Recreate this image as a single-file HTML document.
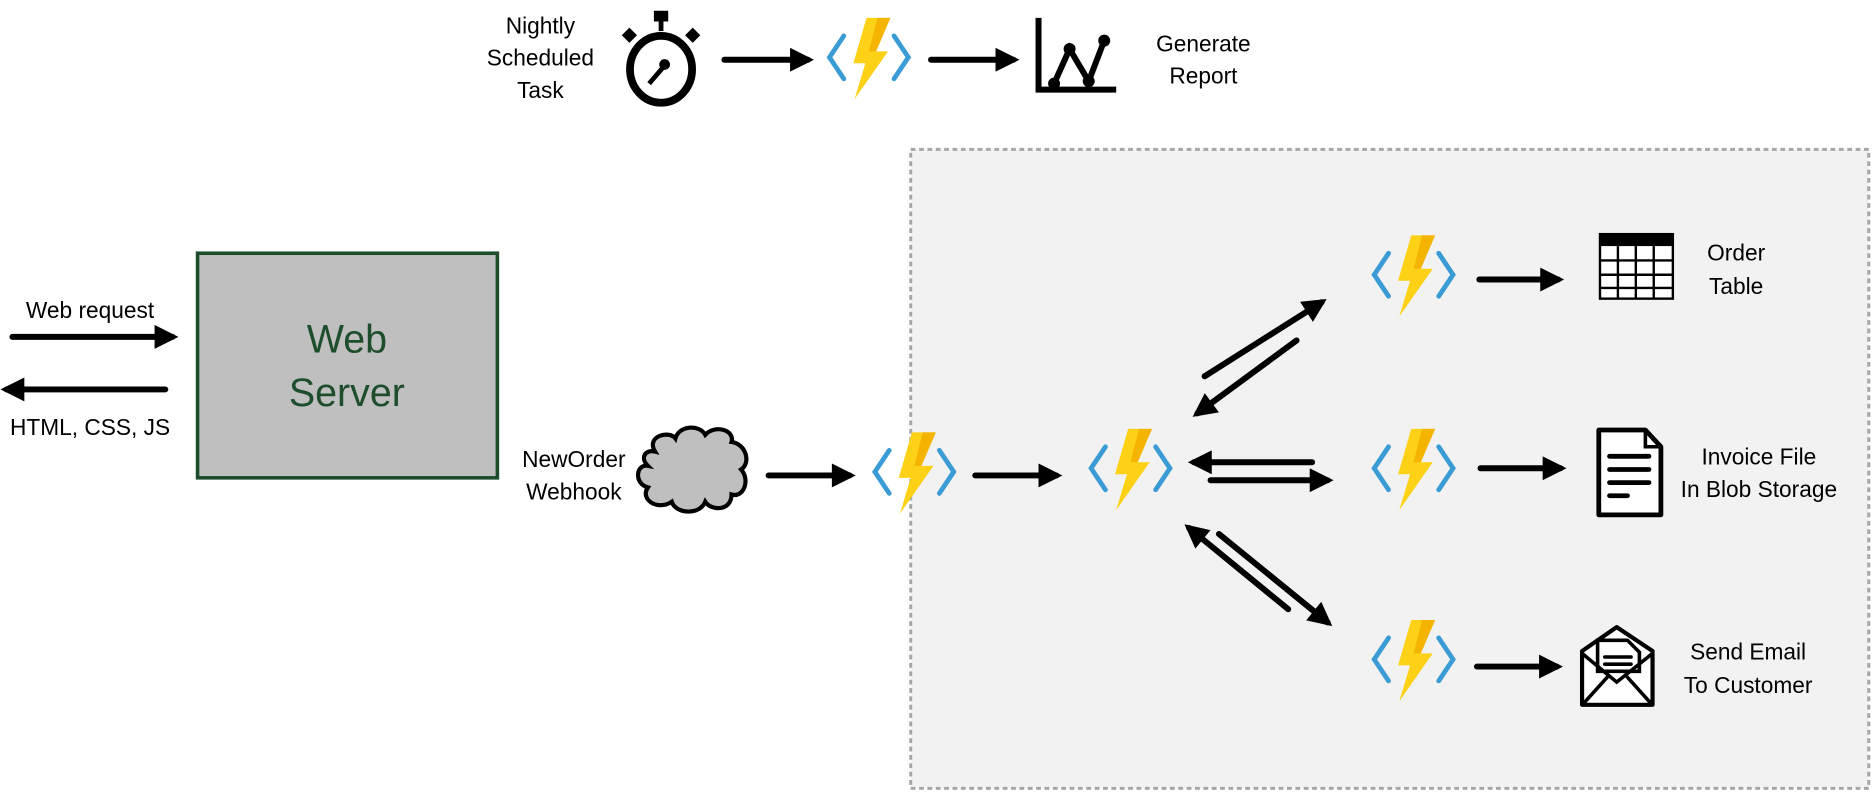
<!DOCTYPE html>
<html><head><meta charset="utf-8"><style>html,body{margin:0;padding:0;background:#fff}svg{display:block}text{font-family:"Liberation Sans",sans-serif;fill:#000}</style></head>
<body>
<svg width="1874" height="792" viewBox="0 0 1568 663" xmlns="http://www.w3.org/2000/svg">
<defs>
<marker id="ah" viewBox="0 0 10 10" refX="7.5" refY="5" markerWidth="5" markerHeight="4" markerUnits="strokeWidth" orient="auto"><path d="M0,0 L10,5 L0,10 z" fill="#000"/></marker>
<g id="fn">
<polyline points="-21,-18 -33,0 -21,18" fill="none" stroke="#3a9bd5" stroke-width="4" stroke-linecap="round"/>
<polyline points="21,-18 33,0 21,18" fill="none" stroke="#3a9bd5" stroke-width="4" stroke-linecap="round"/>
<polygon points="-2,-33 18,-33 6,-5 16,-5 -12,35 -3,5 -13,5" fill="#fcd116"/>
<polygon points="7,-33 18,-33 6,-5 0,-5" fill="#f4b400"/>
</g>
</defs>
<rect x="762" y="125" width="802" height="535" fill="#f2f2f2" stroke="#a6a6a6" stroke-width="2.5" stroke-dasharray="4,3"/>
<g stroke="#000" stroke-width="5" stroke-linecap="round" fill="none" marker-end="url(#ah)">
<line x1="606" y1="50" x2="676" y2="50"/>
<line x1="779" y1="50" x2="848" y2="50"/>
<line x1="10" y1="282" x2="144" y2="282"/>
<line x1="138" y1="326" x2="5" y2="326"/>
<line x1="643" y1="398" x2="711" y2="398"/>
<line x1="816" y1="398" x2="884" y2="398"/>
<line x1="1098" y1="387" x2="999" y2="387"/>
<line x1="1013" y1="402" x2="1111" y2="402"/>
<line x1="1008" y1="315" x2="1106" y2="253"/>
<line x1="1085" y1="285" x2="1002" y2="346"/>
<line x1="1020" y1="447" x2="1111" y2="521"/>
<line x1="1078" y1="510" x2="995" y2="442"/>
<line x1="1238" y1="234" x2="1304" y2="234"/>
<line x1="1239" y1="392" x2="1306" y2="392"/>
<line x1="1236" y1="558" x2="1303" y2="558"/>
</g>
<use href="#fn" x="727" y="48"/>
<use href="#fn" x="765" y="395"/>
<use href="#fn" x="946" y="392"/>
<use href="#fn" x="1183" y="230"/>
<use href="#fn" x="1183" y="392"/>
<use href="#fn" x="1183" y="552"/>
<!-- stopwatch -->
<rect x="547" y="9" width="12" height="9" fill="#000"/>
<rect x="551" y="16" width="4" height="10" fill="#000"/>
<rect x="522" y="25" width="9" height="9" transform="rotate(45 526.5 29.5)" fill="#000"/>
<rect x="575" y="25" width="9" height="9" transform="rotate(45 579.5 29.5)" fill="#000"/>
<ellipse cx="553" cy="58" rx="26" ry="28" fill="#fff" stroke="#000" stroke-width="6.5"/>
<line x1="555" y1="56" x2="543" y2="70" stroke="#000" stroke-width="4"/>
<circle cx="556" cy="54" r="4.5" fill="#000"/>
<!-- chart -->
<polyline points="869,15 869,75 934,75" fill="none" stroke="#000" stroke-width="5"/>
<polyline points="882,70 895,41 911,68 924,34" fill="none" stroke="#000" stroke-width="5"/>
<circle cx="882" cy="70" r="5" fill="#000"/><circle cx="895" cy="41" r="5" fill="#000"/><circle cx="911" cy="68" r="5" fill="#000"/><circle cx="924" cy="34" r="5" fill="#000"/>
<g font-size="19" text-anchor="middle">
<text x="452" y="28">Nightly</text><text x="452" y="55">Scheduled</text><text x="452" y="82">Task</text>
<text x="1007" y="43">Generate</text><text x="1007" y="70">Report</text>
<text x="75" y="266">Web request</text><text x="75" y="364">HTML, CSS, JS</text>
<text x="480" y="391">NewOrder</text><text x="480" y="418">Webhook</text>
<text x="1453" y="218">Order</text><text x="1453" y="246">Table</text>
<text x="1472" y="389">Invoice File</text><text x="1472" y="416">In Blob Storage</text>
<text x="1463" y="552">Send Email</text><text x="1463" y="580">To Customer</text>
</g>
<rect x="165" y="212" width="251" height="188" fill="#bfbfbf" stroke="#1e4d2b" stroke-width="3"/>
<text x="290" y="295" font-size="33" text-anchor="middle" style="fill:#1e4d2b">Web</text>
<text x="290" y="340" font-size="33" text-anchor="middle" style="fill:#1e4d2b">Server</text>
<!-- cloud -->
<path d="M548,378 C540,365 560,360 565,367 C568,356 585,355 590,364 C598,355 615,360 612,370 C625,372 628,388 620,393 C628,402 622,417 612,414 C612,428 595,428 590,420 C585,432 565,430 562,420 C550,428 535,418 542,408 C530,405 532,388 542,390 C535,383 540,376 548,378 Z" fill="#bfbfbf" stroke="#000" stroke-width="3.5"/>
<!-- table -->
<rect x="1339" y="196" width="61" height="54" fill="#fff" stroke="#000" stroke-width="2"/>
<rect x="1339" y="196" width="61" height="10" fill="#000"/>
<g stroke="#000" stroke-width="2"><line x1="1339" y1="218" x2="1400" y2="218"/><line x1="1339" y1="230" x2="1400" y2="230"/><line x1="1339" y1="241" x2="1400" y2="241"/><line x1="1354" y1="206" x2="1354" y2="250"/><line x1="1369" y1="206" x2="1369" y2="250"/><line x1="1384" y1="206" x2="1384" y2="250"/></g>
<!-- document -->
<path d="M1338,360 L1377,360 L1390,374 L1390,431 L1338,431 Z" fill="#fff" stroke="#000" stroke-width="4" stroke-linejoin="round"/>
<path d="M1377,360 L1377,374 L1390,374" fill="none" stroke="#000" stroke-width="3"/>
<g stroke="#000" stroke-width="4" stroke-linecap="round"><line x1="1347" y1="382" x2="1380" y2="382"/><line x1="1347" y1="393" x2="1380" y2="393"/><line x1="1347" y1="404" x2="1380" y2="404"/><line x1="1347" y1="415" x2="1362" y2="415"/></g>
<!-- email -->
<path d="M1324,545 L1353,525 L1383,545 L1383,590 L1324,590 Z" fill="#fff" stroke="#000" stroke-width="3.5" stroke-linejoin="round"/>
<path d="M1337,536 L1362,536 L1372,546 L1372,562 L1337,562 Z" fill="#fff" stroke="#000" stroke-width="3"/>
<g stroke="#000" stroke-width="3" stroke-linecap="round" fill="none"><line x1="1343" y1="550" x2="1365" y2="550"/><line x1="1343" y1="556" x2="1365" y2="556"/><polyline points="1324,547 1353,571 1383,547"/><line x1="1326" y1="588" x2="1345" y2="567"/><line x1="1381" y1="588" x2="1362" y2="567"/></g>
</svg>
</body></html>
